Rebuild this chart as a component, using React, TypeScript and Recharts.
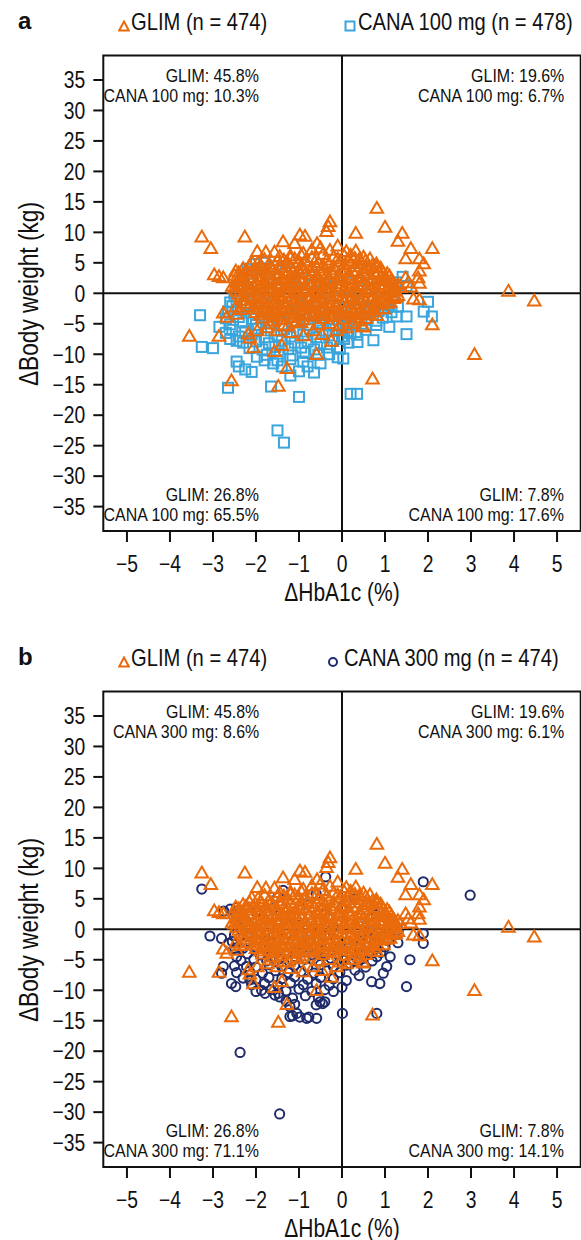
import React from "react";
import { ScatterChart, Scatter, XAxis, YAxis, ReferenceLine, ReferenceArea } from "recharts";

const ORANGE = "#E96B0C";
const SKY = "#3AA5DC";
const NAVY = "#1F2B6B";
const INK = "#111";
const FONT = "'Liberation Sans', Arial, Helvetica, sans-serif";
const SQUEEZE = 0.84; // the figure uses a condensed face

const X_TICKS = [-5, -4, -3, -2, -1, 0, 1, 2, 3, 4, 5];
const Y_TICKS = [-35, -30, -25, -20, -15, -10, -5, 0, 5, 10, 15, 20, 25, 30, 35];
const X_DOMAIN = [-5.55, 5.55];
const Y_DOMAIN = [-39, 39];

// quadrant percentages: top-left, top-right, bottom-left, bottom-right
const GLIM_QUAD = ["45.8%", "19.6%", "26.8%", "7.8%"];
const CANA100_QUAD = ["10.3%", "6.7%", "65.5%", "17.6%"];
const CANA300_QUAD = ["8.6%", "6.1%", "71.1%", "14.1%"];

// ΔHbA1c (%), Δbody weight (kg)
const GLIM_POINTS: [number, number][] = [
  [-3.26, 9.3], [-2.26, 9.3], [-3.05, 7.4], [-2.97, 3.1], [-2.86, 2.8], [-2.76, 2.6], [-2.55, 1.2], [-2.47, 3.7],
  [-2.24, 3.8], [-1.97, 6.9], [-1.77, 6.8], [-1.57, 6.8], [-1.37, 8.5], [-1.1, 8.2], [-0.98, 9.6], [-0.86, 9.4],
  [-0.58, 8.2], [-0.28, 11.8], [-0.32, 11.0], [-0.36, 10.2], [-0.28, 7.1], [0.32, 9.9], [0.32, 7.0], [0.81, 14.0],
  [1.0, 10.9], [1.4, 9.9], [1.3, 8.6], [1.6, 7.4], [2.1, 7.4], [1.48, 5.7], [1.8, 5.7], [1.9, 4.9], [1.8, 3.7],
  [1.48, 2.6], [1.8, 1.7], [1.6, 1.1], [1.54, 1.8], [1.77, 2.6], [3.87, 0.4], [4.47, -1.2], [1.66, -0.9], [1.8, -1.0],
  [2.1, -5.1], [3.08, -10.0], [0.71, -14.0], [0.83, -2.5], [0.5, -5.5], [-3.55, -7.0], [-2.86, -7.0], [-2.76, -3.2],
  [-2.47, -2.2], [-2.18, -6.6], [-2.06, -8.9], [-1.57, -9.5], [-1.28, -12.3], [-2.57, -14.3], [-1.48, -15.2],
  [-2.37, -2.6], [-1.97, -6.1], [-1.74, -5.6], [-1.59, -4.5], [-1.51, -6.1], [-1.36, -5.3], [-1.2, -6.4], [-1.4, -8.5],
  [-1.05, -4.5], [-0.9, -6.9], [-0.67, -6.1], [-0.47, -6.7], [-0.59, -10.0], [-0.25, -7.8], [-0.13, -6.1], [0.1, -5.6],
  [0.4, -4.5], [0.48, -5.3], [0.81, -3.6], [0.96, -2.5], [1.12, -1.4], [-2.68, -3.9], [-2.45, -3.4], [-2.14, -7.3],
  [0.65, 5.7], [0.8, 4.9], [1.02, 2.6], [1.23, 1.1], [-0.5, 7.5], [-0.1, 7.8], [0.1, 6.9], [-0.7, 7.2], [-1.2, 6.2],
  [-0.9, 6.6], [0.5, 6.0], [0.2, 6.3], [-2.1, 5.2],
  [-1.45, 6.1], [-1.2, 5.8], [-0.95, 6.3], [-0.7, 5.9], [-0.45, 6.4], [-0.2, 6.0], [0.05, 6.2], [0.3, 5.8], [0.55, 5.4],
  [-1.95, 5.1], [-1.7, 4.8], [-1.5, 5.3], [-1.25, 4.9], [-1.0, 5.2], [-0.8, 4.7], [-0.55, 5.1], [-0.3, 4.8], [-0.05, 5.3],
  [0.2, 4.9], [0.45, 5.0], [0.7, 4.6], [0.9, 4.2],
  [-2.3, 4.1], [-2.05, 3.8], [-1.85, 4.2], [-1.6, 3.9], [-1.4, 4.3], [-1.15, 3.7], [-0.9, 4.1], [-0.65, 3.8], [-0.4, 4.2],
  [-0.15, 3.9], [0.1, 4.0], [0.35, 3.7], [0.6, 4.1], [0.85, 3.6], [1.05, 3.3],
  [-2.5, 3.0], [-2.3, 2.7], [-2.1, 3.2], [-1.9, 2.8], [-1.7, 3.1], [-1.5, 2.6], [-1.3, 3.0], [-1.1, 2.7], [-0.85, 3.2],
  [-0.6, 2.8], [-0.35, 3.1], [-0.1, 2.6], [0.15, 3.0], [0.4, 2.7], [0.65, 3.1], [0.9, 2.6], [1.1, 2.9],
  [-2.45, 1.9], [-2.25, 2.2], [-2.0, 1.8], [-1.8, 2.1], [-1.55, 1.7], [-1.35, 2.2], [-1.15, 1.8], [-0.95, 2.0], [-0.7, 1.6],
  [-0.5, 2.1], [-0.25, 1.8], [0.0, 2.2], [0.25, 1.7], [0.5, 2.0], [0.75, 1.6], [1.0, 2.1], [1.2, 1.7],
  [-2.5, 0.9], [-2.3, 1.2], [-2.1, 0.8], [-1.9, 1.1], [-1.65, 0.7], [-1.45, 1.2], [-1.2, 0.9], [-1.0, 1.3], [-0.8, 0.8],
  [-0.55, 1.1], [-0.3, 0.7], [-0.05, 1.2], [0.2, 0.9], [0.45, 1.3], [0.7, 0.8], [0.95, 1.1], [1.2, 0.6], [1.35, 1.0],
  [-2.4, -0.1], [-2.2, 0.2], [-1.95, -0.2], [-1.75, 0.1], [-1.5, -0.3], [-1.3, 0.2], [-1.05, -0.1], [-0.85, 0.3],
  [-0.6, -0.2], [-0.4, 0.1], [-0.15, -0.3], [0.1, 0.2], [0.35, -0.1], [0.6, 0.3], [0.85, -0.2], [1.1, 0.1], [1.3, -0.3],
  [-2.3, -1.1], [-2.1, -0.8], [-1.85, -1.2], [-1.65, -0.9], [-1.4, -1.3], [-1.2, -0.8], [-0.95, -1.1], [-0.75, -0.7],
  [-0.5, -1.2], [-0.3, -0.9], [-0.05, -1.3], [0.2, -0.8], [0.45, -1.1], [0.7, -0.7], [0.95, -1.2], [1.2, -0.8],
  [-2.15, -2.1], [-1.95, -1.8], [-1.75, -2.2], [-1.5, -1.9], [-1.3, -2.3], [-1.05, -1.8], [-0.85, -2.1], [-0.6, -1.7],
  [-0.4, -2.2], [-0.15, -1.9], [0.1, -2.3], [0.35, -1.8], [0.6, -2.1], [0.85, -1.7],
  [-2.0, -3.1], [-1.8, -2.8], [-1.55, -3.2], [-1.35, -2.9], [-1.1, -3.3], [-0.9, -2.7], [-0.65, -3.1], [-0.45, -2.8],
  [-0.2, -3.2], [0.05, -2.9], [0.3, -3.1], [0.55, -2.7], [0.75, -3.0],
  [-1.85, -4.0], [-1.6, -3.8], [-1.4, -4.2], [-1.15, -3.9], [-0.9, -4.3], [-0.7, -3.7], [-0.45, -4.1], [-0.2, -3.8],
  [0.05, -4.2], [0.3, -3.9], [0.55, -4.1],
  [-1.7, -5.0], [-1.25, -5.2], [-0.95, -4.8], [-0.55, -5.1], [-0.3, -4.9], [-0.05, -5.3], [0.25, -4.9],
  [-1.8, 5.6], [-1.35, 5.5], [-1.1, 5.7], [-0.85, 5.4], [-0.6, 5.6], [-0.35, 5.5], [-0.1, 5.7], [0.15, 5.4], [0.4, 5.6],
  [-2.15, 4.5], [-1.9, 4.6], [-1.65, 4.4], [-1.45, 4.7], [-1.2, 4.4], [-0.95, 4.6], [-0.7, 4.3], [-0.45, 4.6], [-0.2, 4.4],
  [0.05, 4.7], [0.3, 4.4], [0.55, 4.5], [0.8, 4.4],
  [-2.4, 3.4], [-2.2, 3.6], [-1.95, 3.4], [-1.75, 3.6], [-1.5, 3.3], [-1.25, 3.5], [-1.0, 3.4], [-0.75, 3.6], [-0.5, 3.3],
  [-0.25, 3.5], [0.0, 3.4], [0.25, 3.6], [0.5, 3.3], [0.75, 3.5], [0.95, 3.4],
  [-2.35, 2.4], [-2.15, 2.6], [-1.95, 2.4], [-1.75, 2.5], [-1.6, 2.3], [-1.4, 2.6], [-1.2, 2.3], [-1.0, 2.5], [-0.75, 2.4],
  [-0.55, 2.6], [-0.3, 2.3], [-0.05, 2.5], [0.2, 2.4], [0.45, 2.5], [0.7, 2.3], [0.95, 2.4], [1.15, 2.3],
  [-2.4, 1.5], [-2.2, 1.4], [-2.0, 1.6], [-1.75, 1.4], [-1.5, 1.5], [-1.25, 1.4], [-1.05, 1.6], [-0.85, 1.3], [-0.6, 1.5],
  [-0.4, 1.4], [-0.15, 1.6], [0.1, 1.4], [0.35, 1.5], [0.6, 1.4], [0.85, 1.5], [1.1, 1.3], [1.3, 1.5],
  [-2.45, 0.4], [-2.2, 0.6], [-2.0, 0.4], [-1.8, 0.5], [-1.55, 0.4], [-1.35, 0.6], [-1.1, 0.4], [-0.9, 0.5], [-0.65, 0.3],
  [-0.45, 0.6], [-0.2, 0.4], [0.05, 0.5], [0.3, 0.4], [0.55, 0.6], [0.8, 0.3], [1.05, 0.5], [1.25, 0.4],
  [-2.35, -0.5], [-2.1, -0.4], [-1.9, -0.6], [-1.6, -0.5], [-1.4, -0.6], [-1.15, -0.4], [-0.95, -0.6], [-0.7, -0.4],
  [-0.5, -0.6], [-0.25, -0.5], [0.0, -0.6], [0.25, -0.4], [0.5, -0.6], [0.75, -0.4], [1.0, -0.5], [1.25, -0.6],
  [-2.25, -1.6], [-2.0, -1.4], [-1.8, -1.6], [-1.55, -1.4], [-1.35, -1.6], [-1.1, -1.5], [-0.9, -1.6], [-0.65, -1.4],
  [-0.45, -1.6], [-0.2, -1.4], [0.05, -1.5], [0.3, -1.6], [0.55, -1.4], [0.8, -1.5], [1.05, -1.6],
  [-2.05, -2.5], [-1.85, -2.6], [-1.65, -2.4], [-1.4, -2.6], [-1.2, -2.5], [-0.95, -2.6], [-0.75, -2.4], [-0.5, -2.6],
  [-0.3, -2.4], [-0.05, -2.6], [0.2, -2.5], [0.45, -2.4], [0.7, -2.6],
  [-1.9, -3.5], [-1.7, -3.4], [-1.45, -3.6], [-1.25, -3.4], [-1.0, -3.6], [-0.8, -3.4], [-0.55, -3.5], [-0.3, -3.6],
  [-0.05, -3.4], [0.2, -3.5], [0.45, -3.4], [0.65, -3.5],
];

const CANA100_POINTS: [number, number][] = [
  [-3.3, -3.6], [-3.26, -8.8], [-3.0, -9.0], [-2.65, -15.5], [-1.5, -22.5], [-1.35, -24.5], [-1.0, -17.0], [0.2, -16.5],
  [0.35, -16.5], [-1.65, -15.3], [-2.45, -11.2], [-2.4, -12.0], [-2.25, -12.5], [-2.1, -12.9], [-1.98, -10.4],
  [-2.85, -5.5], [-2.7, -6.5], [-2.6, -7.5], [-2.45, -7.8], [-2.37, 0.5], [-2.4, 1.2], [-2.2, 4.0], [-2.0, 4.8],
  [-1.8, 5.0], [-2.5, -0.5], [-2.6, -1.5], [1.41, 2.7], [1.5, 1.2], [2.0, -1.4], [2.09, -3.8], [1.9, -3.0], [1.5, -3.8],
  [1.27, -3.8], [1.5, -6.7], [0.73, -7.7], [0.36, -8.0], [0.03, -10.7], [-0.1, -10.5], [1.2, -0.7], [1.0, -2.5],
  [0.8, -4.5], [1.1, -5.5], [0.6, -4.0], [0.2, -6.5], [0.05, -7.5], [0.15, -5.2], [-1.2, -13.5], [-1.0, -12.8],
  [-0.8, -12.0], [-0.5, -11.5], [-0.3, -10.0], [-1.4, -12.0], [-1.6, -11.5], [-1.8, -11.0], [-0.65, -13.0],
  [-2.45, -1.1], [-2.1, -0.9], [-1.8, -1.2], [-1.45, -0.8], [-1.1, -1.1], [-0.8, -0.9], [-0.45, -1.2], [-0.1, -0.8],
  [0.25, -1.1], [0.6, -0.9], [0.95, -1.2],
  [-2.55, -2.1], [-2.25, -1.8], [-1.95, -2.2], [-1.6, -1.9], [-1.3, -2.2], [-0.95, -1.8], [-0.6, -2.1], [-0.3, -1.9],
  [0.05, -2.2], [0.4, -1.8], [0.75, -2.1], [1.1, -1.9], [1.3, -2.2],
  [-2.65, -3.0], [-2.35, -2.8], [-2.05, -3.2], [-1.75, -2.9], [-1.4, -3.1], [-1.1, -2.8], [-0.75, -3.2], [-0.45, -2.9],
  [-0.1, -3.1], [0.2, -2.8], [0.55, -3.2], [0.85, -2.9], [1.15, -3.1],
  [-2.7, -4.1], [-2.4, -3.9], [-2.1, -4.2], [-1.8, -3.8], [-1.5, -4.1], [-1.2, -3.9], [-0.9, -4.3], [-0.6, -3.8],
  [-0.3, -4.2], [0.0, -3.9], [0.3, -4.1], [0.95, -4.0],
  [-2.6, -5.1], [-2.3, -4.8], [-2.0, -5.2], [-1.7, -4.9], [-1.4, -5.1], [-1.1, -4.8], [-0.8, -5.2], [-0.5, -4.9],
  [-0.2, -5.1], [0.1, -4.8], [0.45, -5.0], [0.8, -5.2],
  [-2.55, -6.0], [-2.25, -6.2], [-1.95, -5.8], [-1.65, -6.1], [-1.35, -5.9], [-1.05, -6.2], [-0.75, -5.8], [-0.45, -6.1],
  [-0.15, -5.9], [0.15, -6.2], [0.55, -6.0],
  [-2.4, -7.1], [-2.1, -6.8], [-1.8, -7.2], [-1.5, -6.9], [-1.2, -7.1], [-0.9, -6.8], [-0.6, -7.2], [-0.3, -6.9],
  [0.0, -7.1], [0.35, -6.8],
  [-2.3, -8.1], [-2.0, -7.9], [-1.7, -8.2], [-1.4, -7.8], [-1.1, -8.1], [-0.8, -7.9], [-0.5, -8.2], [-0.2, -7.8], [0.15, -8.1],
  [-2.15, -9.0], [-1.85, -9.2], [-1.55, -8.8], [-1.25, -9.1], [-0.95, -8.9], [-0.65, -9.2], [-0.35, -8.9], [-0.05, -9.1],
  [-1.75, -10.1], [-1.45, -9.9], [-1.15, -10.2], [-0.85, -9.8], [-0.55, -10.1],
  [-1.5, -11.0], [-1.2, -10.8], [-0.9, -11.2],
  [-2.3, 2.5], [-2.1, 3.2], [-1.9, 4.1], [-1.6, 4.4], [-1.3, 3.6], [-1.0, 2.4], [-0.7, 3.0], [-0.4, 1.5], [-2.2, 0.3],
  [-1.9, -0.2], [-1.5, 0.6], [-1.1, 1.4], [-0.6, 0.2], [0.2, 0.8], [0.6, 1.6], [1.0, 0.5], [1.25, 1.8], [-0.2, 2.8],
  [0.3, 3.4], [-1.7, 1.8],
];

const CANA300_POINTS: [number, number][] = [
  [-3.26, 6.6], [1.89, 7.8], [-0.38, 8.6], [-1.37, 6.4], [2.98, 5.6], [-3.07, -1.1], [-2.8, -1.5], [-2.64, -2.3],
  [-2.49, -3.1], [-2.45, -4.5], [-2.76, -6.1], [-2.57, -8.9], [-2.47, -9.4], [-2.8, -7.2], [-2.22, -6.1], [-2.14, -8.3],
  [-1.87, -10.0], [-1.79, -10.5], [-1.56, -10.8], [-1.48, -10.5], [-1.21, -12.7], [-1.05, -13.8], [-0.82, -14.6],
  [-0.59, -14.6], [-1.21, -14.3], [-0.98, -14.4], [-0.77, -14.4], [-1.15, -14.2], [-0.51, -11.9], [-0.4, -11.9],
  [-0.2, -10.2], [0.01, -13.8], [0.81, -13.8], [0.69, -8.6], [0.88, -8.9], [0.96, -7.2], [1.04, -6.1], [1.12, -4.5],
  [1.5, -9.4], [1.58, -5.0], [1.89, -2.3], [1.89, -0.7], [1.31, -0.1], [0.3, -6.7], [0.19, -5.6], [0.65, -3.9],
  [0.81, -4.5], [-2.37, -20.2], [-1.45, -30.3], [-2.6, 3.3], [-1.1, -12.3], [-0.6, -12.4], [-0.45, -12.2],
  [-2.75, 3.0], [-2.45, 3.6],
  [-2.5, -1.0], [-2.2, -1.2], [-1.9, -0.9], [-1.6, -1.1], [-1.3, -0.8], [-1.0, -1.2], [-0.7, -0.9], [-0.4, -1.1],
  [-0.1, -0.8], [0.2, -1.2], [0.5, -0.9], [0.8, -1.1], [1.1, -0.8],
  [-2.55, -2.0], [-2.25, -2.2], [-1.95, -1.9], [-1.65, -2.1], [-1.35, -1.8], [-1.05, -2.2], [-0.75, -1.9], [-0.45, -2.1],
  [-0.15, -1.8], [0.15, -2.2], [0.45, -1.9], [0.75, -2.1], [1.05, -1.8], [1.3, -2.2],
  [-2.3, -3.1], [-2.0, -2.9], [-1.7, -3.2], [-1.4, -2.8], [-1.1, -3.1], [-0.8, -2.9], [-0.5, -3.2], [-0.2, -2.8],
  [0.1, -3.1], [0.4, -2.9], [0.75, -3.2], [1.0, -2.9],
  [-2.2, -4.0], [-1.9, -4.2], [-1.6, -3.8], [-1.3, -4.1], [-1.0, -3.9], [-0.7, -4.2], [-0.4, -3.8], [-0.1, -4.1],
  [0.2, -3.9], [0.45, -4.2], [0.9, -3.8],
  [-2.35, -5.1], [-2.05, -4.9], [-1.75, -5.2], [-1.45, -4.8], [-1.15, -5.1], [-0.85, -4.9], [-0.55, -5.2], [-0.25, -4.8],
  [0.05, -5.1], [0.4, -5.0], [0.7, -5.2],
  [-2.5, -6.0], [-2.0, -6.2], [-1.7, -5.8], [-1.4, -6.1], [-1.1, -5.9], [-0.8, -6.2], [-0.5, -5.8], [-0.2, -6.1],
  [0.1, -5.9], [0.55, -6.2],
  [-2.45, -7.1], [-2.15, -6.9], [-1.85, -7.2], [-1.55, -6.8], [-1.25, -7.1], [-0.95, -6.9], [-0.65, -7.2], [-0.35, -6.8],
  [-0.05, -7.1], [0.4, -7.6],
  [-2.3, -8.0], [-2.0, -8.2], [-1.7, -7.9], [-1.4, -8.1], [-1.1, -7.8], [-0.8, -8.2], [-0.5, -7.9], [-0.2, -8.1], [0.1, -8.4],
  [-2.1, -9.1], [-1.8, -8.9], [-1.5, -9.2], [-1.2, -8.8], [-0.9, -9.1], [-0.6, -8.9], [-0.3, -9.2], [0.0, -9.5],
  [-2.0, -10.2], [-1.65, -9.9], [-1.3, -10.1], [-1.0, -9.8], [-0.7, -10.2], [-0.4, -9.9],
  [-1.45, -11.1], [-1.15, -11.3], [-0.85, -10.9], [-0.55, -11.2], [-1.3, -11.8],
  [-2.3, 1.5], [-2.0, 2.8], [-1.6, 3.4], [-1.2, 2.0], [-0.8, 4.0], [-0.4, 2.5], [0.0, 3.6], [0.4, 1.2], [0.8, 2.4],
  [1.2, 0.9], [-1.8, 0.4], [-1.0, 0.6], [-0.2, 0.3], [0.6, -0.3], [-2.45, 2.3], [-1.5, 5.2], [-0.6, 5.8], [0.3, 5.0],
];

const toXY = (pts: [number, number][]) => pts.map(([x, y]) => ({ x, y }));
const fmt = (v: number) => (v < 0 ? `\u2212${-v}` : `${v}`);

const Triangle = (p: any) => (
  <path
    d={`M${p.cx},${p.cy - 6} L${p.cx + 6.3},${p.cy + 4.8} L${p.cx - 6.3},${p.cy + 4.8} Z`}
    fill="none" stroke={ORANGE} strokeWidth={2}
  />
);
const Square = (p: any) => (
  <rect x={p.cx - 5} y={p.cy - 5} width={10} height={10} fill="none" stroke={SKY} strokeWidth={2} />
);
const Circle = (p: any) => (
  <circle cx={p.cx} cy={p.cy} r={4.6} fill="none" stroke={NAVY} strokeWidth={2} />
);

const XTick = ({ x, y, payload }: any) => (
  <g transform={`translate(${x},${y}) scale(${SQUEEZE},1)`}>
    <text x={0} y={0} dy="0.72em" textAnchor="middle" fill={INK} fontSize={23} fontFamily={FONT}>{fmt(payload.value)}</text>
  </g>
);
const YTick = ({ x, y, payload }: any) => (
  <g transform={`translate(${x},${y}) scale(${SQUEEZE},1)`}>
    <text x={0} y={0} dy="0.36em" textAnchor="end" fill={INK} fontSize={23} fontFamily={FONT}>{fmt(payload.value)}</text>
  </g>
);

const legendIcon = (kind: string) => {
  if (kind === "tri")
    return <svg width={12} height={12}><path d="M6,1.5 L10.8,10.5 L1.2,10.5 Z" fill="none" stroke={ORANGE} strokeWidth={2} /></svg>;
  if (kind === "sq")
    return <svg width={12} height={12}><rect x={1.5} y={1.5} width={9} height={9} fill="none" stroke={SKY} strokeWidth={2} /></svg>;
  return <svg width={12} height={12}><circle cx={6} cy={6} r={4} fill="none" stroke={NAVY} strokeWidth={2} /></svg>;
};

const squeezed = (origin: string, extra = ""): React.CSSProperties => ({
  position: "absolute", fontFamily: FONT, color: INK, whiteSpace: "nowrap",
  transform: `${extra} scale(${SQUEEZE},1)`, transformOrigin: origin,
});

function QuadText({ lines, right, top }: { lines: string[]; right: number; top: number }) {
  return (
    <div style={{ ...squeezed("right center"), right, top, textAlign: "right", fontSize: 19, lineHeight: "19.5px" }}>
      {lines.map((l) => <div key={l}>{l}</div>)}
    </div>
  );
}

function Panel({ top, tag, canaName, canaLegend, canaPoints, canaShape, canaIcon, canaQuad }: any) {
  const q = (i: number) => [`GLIM: ${GLIM_QUAD[i]}`, `${canaName}: ${canaQuad[i]}`];
  const sq = canaIcon === "sq";
  return (
    <div style={{ position: "absolute", left: 0, top, width: 581, height: 636 }}>
      <div style={{ position: "absolute", left: 18, top: 7, fontFamily: FONT, fontWeight: 700, fontSize: 24, color: INK }}>{tag}</div>
      <div style={{ position: "absolute", left: 118, top: 18 }}>{legendIcon("tri")}</div>
      <div style={{ ...squeezed("left center"), left: 131, top: 8, fontSize: 24 }}>GLIM (n = 474)</div>
      <div style={{ position: "absolute", left: sq ? 344 : 327, top: 18 }}>{legendIcon(canaIcon)}</div>
      <div style={{ ...squeezed("left center"), left: sq ? 358 : 344, top: 8, fontSize: 24 }}>{canaLegend}</div>

      <ScatterChart width={581} height={636} margin={{ top: 55.6, right: 0.3, bottom: 25, left: 13.3 }}>
        <XAxis
          type="number" dataKey="x" domain={X_DOMAIN} ticks={X_TICKS} interval={0} allowDataOverflow
          height={80} tickSize={11} tickMargin={13} axisLine={false}
          tickLine={{ stroke: INK, strokeWidth: 2 }} tick={<XTick />}
        />
        <YAxis
          type="number" dataKey="y" domain={Y_DOMAIN} ticks={Y_TICKS} interval={0} allowDataOverflow
          width={90} tickSize={10} tickMargin={8} axisLine={false}
          tickLine={{ stroke: INK, strokeWidth: 2 }} tick={<YTick />}
        />
        <Scatter name={canaName} data={toXY(canaPoints)} shape={canaShape} isAnimationActive={false} />
        <Scatter name="GLIM" data={toXY(GLIM_POINTS)} shape={Triangle} isAnimationActive={false} />
        <ReferenceLine x={0} stroke={INK} strokeWidth={2} />
        <ReferenceLine y={0} stroke={INK} strokeWidth={2} />
        <ReferenceArea x1={X_DOMAIN[0]} x2={X_DOMAIN[1]} y1={Y_DOMAIN[0]} y2={Y_DOMAIN[1]} fill="none" fillOpacity={0} stroke={INK} strokeWidth={2} />
      </ScatterChart>

      <div style={{ ...squeezed("center center", "translate(-50%,-50%)"), left: 342, top: 592, fontSize: 25 }}>{"\u0394HbA1c (%)"}</div>
      <div style={{ ...squeezed("center center", "translate(-50%,-50%) rotate(-90deg)"), left: 29, top: 294, fontSize: 27 }}>{"\u0394Body weight (kg)"}</div>

      <QuadText lines={q(0)} right={322} top={66} />
      <QuadText lines={q(1)} right={17} top={66} />
      <QuadText lines={q(2)} right={322} top={485} />
      <QuadText lines={q(3)} right={17} top={485} />
    </div>
  );
}

export default function App() {
  return (
    <div style={{ position: "absolute", left: 0, top: 0, width: 581, height: 1240, background: "#fff" }}>
      <Panel top={0} tag="a" canaName="CANA 100 mg" canaLegend="CANA 100 mg (n = 478)" canaPoints={CANA100_POINTS}
        canaShape={Square} canaIcon="sq" canaQuad={CANA100_QUAD} />
      <Panel top={636} tag="b" canaName="CANA 300 mg" canaLegend="CANA 300 mg (n = 474)" canaPoints={CANA300_POINTS}
        canaShape={Circle} canaIcon="ci" canaQuad={CANA300_QUAD} />
    </div>
  );
}
